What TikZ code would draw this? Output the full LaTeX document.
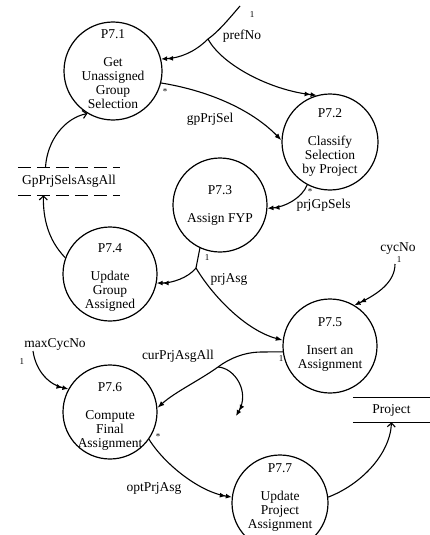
\documentclass[tikz,border=0pt]{standalone}
\usepackage{fontspec}
\setmainfont{Liberation Serif}
\usetikzlibrary{arrows.meta,calc}
\newcommand\plines[1]{\begin{tabular}[t]{@{}c@{}}#1\end{tabular}}
\begin{document}
\begin{tikzpicture}[x=1pt,y=-1pt,
  proc/.style={circle,draw,line width=1.2pt,inner sep=0pt},
  txt/.style={font=\fontsize{13.5}{14}\selectfont,inner sep=0pt},
  small/.style={font=\fontsize{9}{9}\selectfont,inner sep=0pt},
  flow/.style={line width=1.1pt,-{Latex[length=7pt,width=5pt]}},
  dflow/.style={line width=1.1pt,-{Latex[length=6pt,width=5pt]Latex[length=6pt,width=5pt]}},
  oflow/.style={line width=1.1pt,-{Straight Barb[length=4pt,width=8pt]}},
  plain/.style={line width=1.1pt},
  storedash/.style={line width=1.3pt,dash pattern=on 13pt off 6pt},
  storeline/.style={line width=1.3pt},
]
\useasboundingbox (0,0) rectangle (430,535);

% processes
\node[proc,minimum size=98pt] (p1) at (113,71) {};
\node[proc,minimum size=96pt] (p2) at (330,142) {};
\node[proc,minimum size=94pt] (p3) at (220,205) {};
\node[proc,minimum size=94pt] (p4) at (110,274) {};
\node[proc,minimum size=94pt] (p5) at (330,346) {};
\node[proc,minimum size=94pt] (p6) at (110,412) {};
\node[proc,minimum size=96pt] (p7) at (280,503) {};

\node[txt,anchor=base] (t1) at (113,38.5) {\plines{P7.1\\[14pt]Get\\Unassigned\\Group\\Selection}};
\node[txt,anchor=base] (t2) at (330,117.5) {\plines{P7.2\\[14pt]Classify\\Selection\\by Project}};
\node[txt,anchor=base] (t3) at (220,194.5) {\plines{P7.3\\[14pt]Assign FYP}};
\node[txt,anchor=base] (t4) at (110,252.5) {\plines{P7.4\\[14pt]Update\\Group\\Assigned}};
\node[txt,anchor=base] (t5) at (330,326.5) {\plines{P7.5\\[14pt]Insert an\\Assignment}};
\node[txt,anchor=base] (t6) at (110,391.5) {\plines{P7.6\\[14pt]Compute\\Final\\Assignment}};
\node[txt,anchor=base] (t7) at (280,472.5) {\plines{P7.7\\[14pt]Update\\Project\\Assignment}};

% stores
\node[txt,minimum width=102pt,minimum height=27pt] (s1) at (69,181.5) {GpPrjSelsAsgAll};
\draw[storedash] (s1.north west) -- (s1.north east);
\draw[storedash] (s1.south west) -- (s1.south east);
\node[txt,minimum width=77pt,minimum height=24pt] (s2) at (391.5,410) {Project};
\draw[storeline] (s2.north west) -- (s2.north east);
\draw[storeline] (s2.south west) -- (s2.south east);

% labels
\node[txt,anchor=base] (l1) at (242,40) {prefNo};
\node[small] (n1) at (252,15) {1};
\node[small] (a1) at (165,92) {*};
\node[txt,anchor=base] (l2) at (210,122) {gpPrjSel};
\node[small] (a2) at (310,192) {*};
\node[txt,anchor=base] (l3) at (323.5,208) {prjGpSels};
\node[small] (n2) at (207,258) {1};
\node[txt,anchor=base] (l4) at (229,282) {prjAsg};
\node[txt,anchor=base] (l5) at (398,251) {cycNo};
\node[small] (n3) at (399,260) {1};
\node[small] (n4) at (281,359) {1};
\node[txt,anchor=base] (l6) at (178,359) {curPrjAsgAll};
\node[txt,anchor=base] (l7) at (55,347) {maxCycNo};
\node[small] (n5) at (22,362) {1};
\node[small] (a3) at (158,437) {*};
\node[txt,anchor=base] (l8) at (154,491) {optPrjAsg};

% connectors
\coordinate (pin) at (240,6);
\coordinate (pb) at (208,39);
\draw[plain] (pin) .. controls (228,20) and (218,32) .. (pb);
\draw[dflow] (pb) .. controls (195,52) and (180,58) .. (p1.14);
\draw[dflow] (pb) .. controls (222,65) and (270,90) .. (p2.106);

\draw[flow] (p1.-14) .. controls (205,90) and (250,108) .. (p2.178);

\coordinate (s1a) at ($(s1.north west)!0.27!(s1.north east)$);
\draw[oflow] (s1a) .. controls (47,140) and (65,118) .. (p1.239);
\coordinate (s1b) at ($(s1.south west)!0.25!(s1.south east)$);
\draw[oflow] (p4.160) .. controls (48,240) and (43,218) .. (s1b);

\draw[dflow] (p2.242) .. controls (302,198) and (285,207) .. (p3.-4);

\coordinate (ab) at (196,268);
\draw[plain] (p3.245) -- (ab);
\draw[dflow] (ab) .. controls (188,278) and (172,283) .. (p4.-11);
\draw[flow] (ab) .. controls (212,295) and (245,330) .. (p5.173);

\coordinate (cin) at (395,264);
\draw[dflow] (cin) .. controls (395,282) and (378,294) .. (p5.59);

\coordinate (cb) at (218,367);
\coordinate (ch) at (262,352);
\coordinate (cend) at (236,416);
\draw[flow] (p5.187) -- (ch) .. controls (245,352) and (230,358) .. (cb) .. controls (200,380) and (175,392) .. (p6.5);
\draw[dflow] (cb) .. controls (235,368) and (250,392) .. (cend);

\coordinate (min) at (33,351);
\draw[dflow] (min) .. controls (36,372) and (50,385) .. (p6.151);

\draw[dflow] (p6.-35) .. controls (165,465) and (200,492) .. (p7.173);

\coordinate (s2a) at ($(s2.south west)!0.5!(s2.south east)$);
\draw[oflow] (p7.7) .. controls (360,485) and (390,455) .. (s2a);
\end{tikzpicture}
\end{document}
